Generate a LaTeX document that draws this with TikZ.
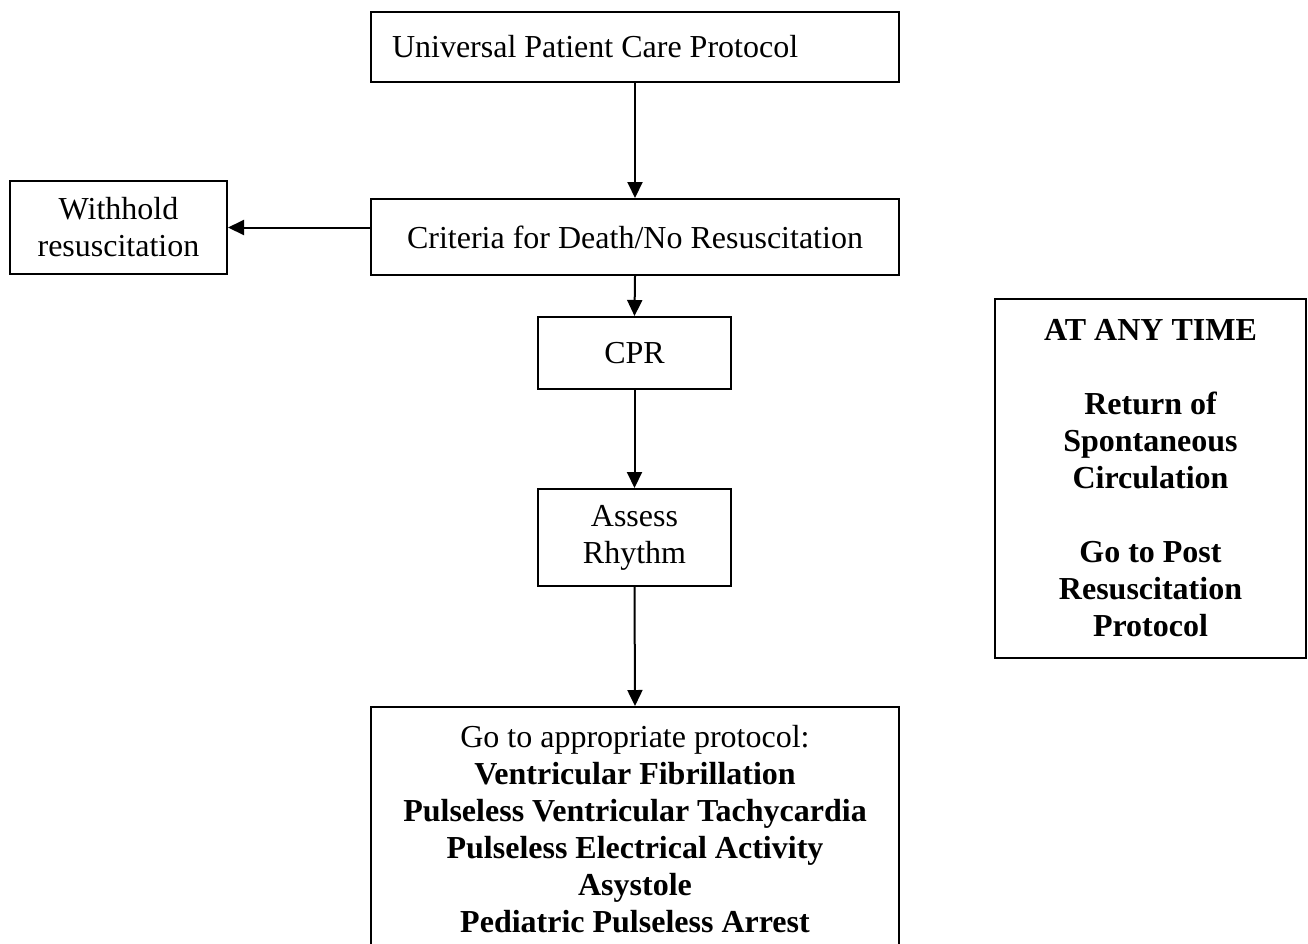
\documentclass[tikz,border=0pt]{standalone}
\usepackage{fontspec}
\setmainfont{Liberation Serif}
\usetikzlibrary{arrows.meta}
\begin{document}
\begin{tikzpicture}[x=1pt,y=-1pt,
  box/.style={draw, line width=2pt, inner sep=0pt, align=center,
    font=\fontsize{32}{37}\selectfont},
  flow/.style={line width=2pt, -{Triangle[length=16pt,width=15pt]}}]
\clip (0,0) rectangle (1308,943);
\fill[white] (0,0) rectangle (1308,943);

% main column
\node[box, text width=486pt, inner xsep=21pt, minimum height=70pt, align=flush left]
  (upc) at (635,47) {Universal Patient Care Protocol};
\node[box, minimum width=528pt, minimum height=76pt]
  (crit) at (635,237) {Criteria for Death/No Resuscitation};
\node[box, minimum width=217pt, minimum height=93pt]
  (withhold) at (118.5,227.5) {Withhold\\resuscitation};
\node[box, minimum width=193pt, minimum height=72pt]
  (cpr) at (634.5,353) {CPR};
\node[box, minimum width=193pt, minimum height=97pt]
  (assess) at (634.5,537.5) {Assess\\Rhythm};
\node[box, minimum width=528pt, minimum height=245pt]
  (goto) at (635,829.5) {Go to appropriate protocol:\\
  \textbf{Ventricular Fibrillation}\\
  \textbf{Pulseless Ventricular Tachycardia}\\
  \textbf{Pulseless Electrical Activity}\\
  \textbf{Asystole}\\
  \textbf{Pediatric Pulseless Arrest}};

% side note
\node[box, minimum width=311pt, minimum height=359pt, font=\fontsize{32}{37}\selectfont\bfseries]
  (anytime) at (1150.5,478.5) {AT ANY TIME\\[37pt]
  Return of\\Spontaneous\\Circulation\\[37pt]
  Go to Post\\Resuscitation\\Protocol};

% connectors
\draw[flow] (upc.south) -- (crit.north);
\draw[flow] (crit.west |- withhold.east) -- (withhold.east);
\draw[flow] (crit.south) -- (cpr.north);
\draw[flow] (cpr.south) -- (assess.north);
\draw[flow] (assess.south) -- (goto.north);
\end{tikzpicture}
\end{document}
